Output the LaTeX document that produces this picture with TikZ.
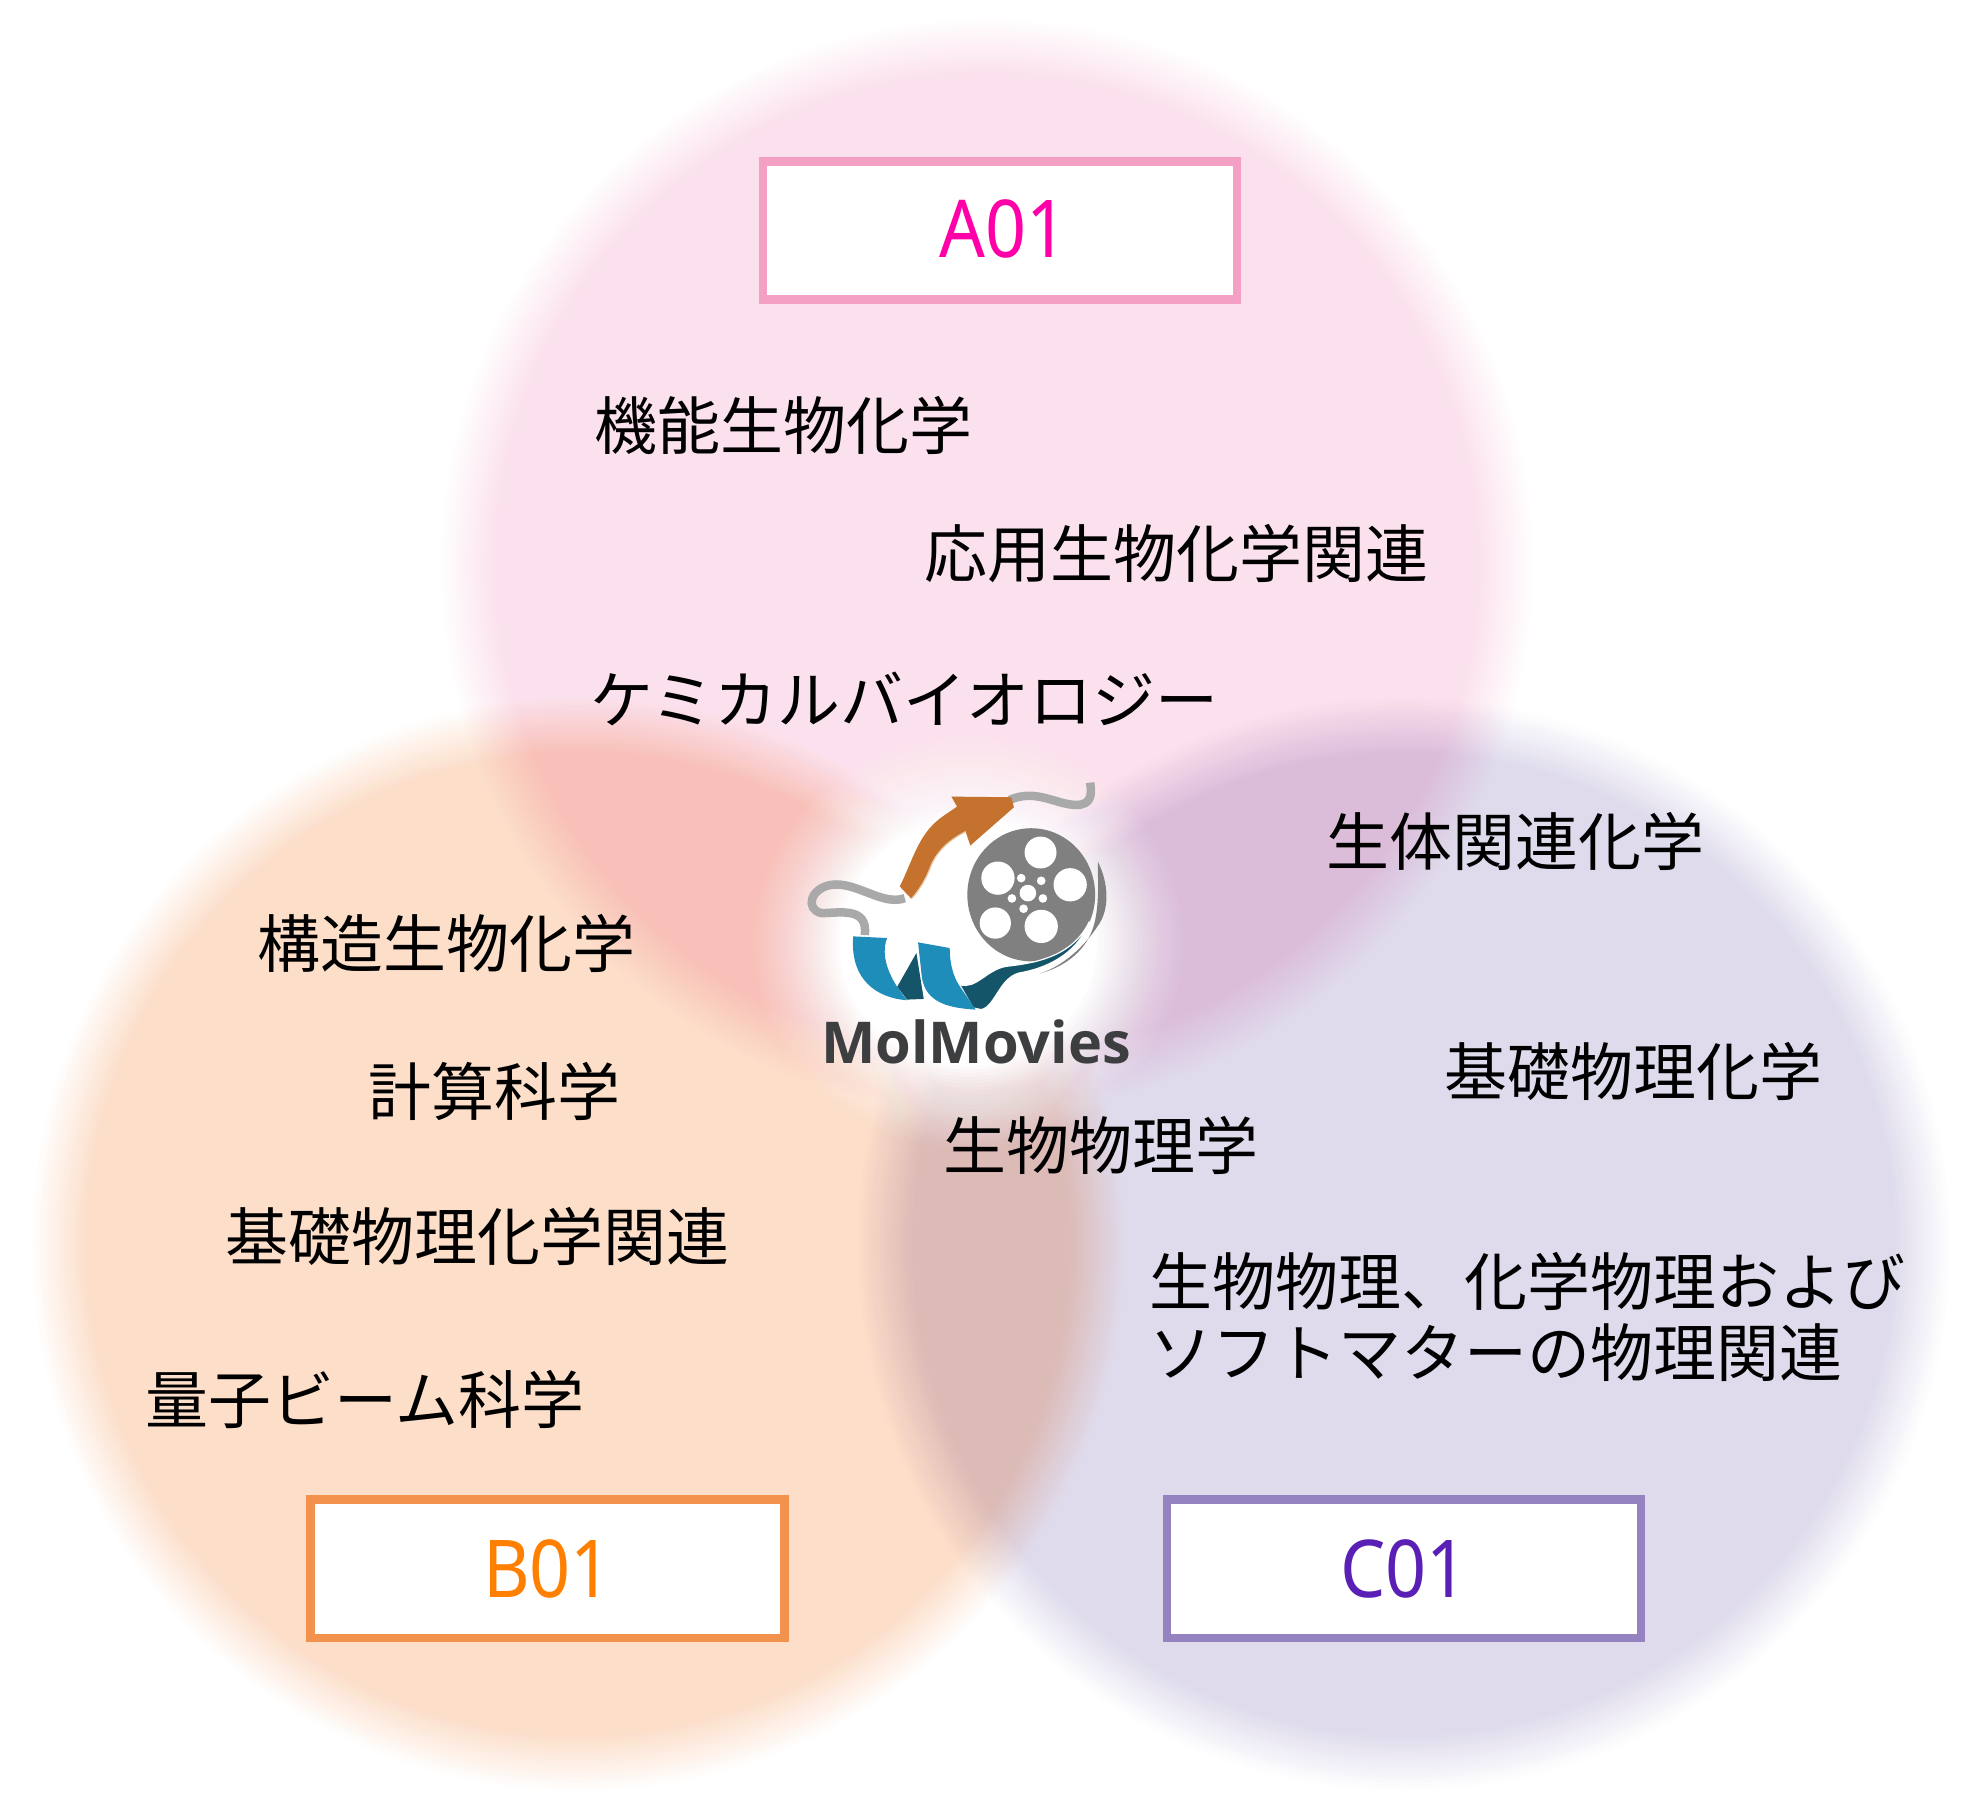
\documentclass[tikz,border=0pt]{standalone}
\usepackage{fontspec}
\newfontfamily\cjk{Noto Sans CJK JP}
\newfontfamily\labelfont[FakeStretch=0.9]{Noto Sans}
\newfontfamily\logofont{Open Sans}[BoldFont={Open Sans Bold}]
\definecolor{pinkline}{HTML}{F49FC4}
\definecolor{orangeline}{HTML}{F2924C}
\definecolor{purpleline}{HTML}{9583C1}
\definecolor{pinktext}{HTML}{FF00A8}
\definecolor{orangetext}{HTML}{FF7F00}
\definecolor{purpletext}{HTML}{5A1FB5}
\definecolor{logogray}{HTML}{808080}
\definecolor{stringgray}{HTML}{A9A9A9}
\definecolor{arroworange}{HTML}{C4722D}
\definecolor{arrowedge}{HTML}{EBC9A8}
\definecolor{ribbonblue}{HTML}{1F8DB9}
\definecolor{ribbondark}{HTML}{14556A}
\definecolor{logotext}{HTML}{3C3E40}
% soft-edged disc: 15 concentric multiply layers whose integer colour steps add up to the fill
\newcommand{\softblob}[7]{%
  \foreach \i in {1,...,15}{
    \pgfmathtruncatemacro{\layerr}{255-round(\i*#5/15)+round((\i-1)*#5/15)}
    \pgfmathtruncatemacro{\layerg}{255-round(\i*#6/15)+round((\i-1)*#6/15)}
    \pgfmathtruncatemacro{\layerb}{255-round(\i*#7/15)+round((\i-1)*#7/15)}
    \definecolor{layercol}{RGB}{\layerr,\layerg,\layerb}
    \pgfmathsetmacro{\layerrad}{#3-(#3-#4)*(\i-1)/14}
    \path[fill=layercol] (#1,#2) circle [radius=\layerrad];
  }}
\tikzset{
  tagbox/.style={draw=#1,fill=white,line width=0.086cm,minimum width=4.74cm,minimum height=1.385cm,inner sep=0pt,font=\labelfont\fontsize{22.7}{26}\selectfont},
  topic/.style={anchor=west,inner sep=0pt,text=black,font=\cjk\fontsize{17.9}{20}\selectfont,align=left},
  stringline/.style={draw=stringgray,line width=0.085cm},
}
\begin{document}
\begin{tikzpicture}[x=0.01cm,y=-0.01cm]
\useasboundingbox (0,0) rectangle (1971,1820);
\fill[white] (0,0) rectangle (1971,1820);
\begin{scope}[blend mode=multiply]
\softblob{987}{565}{546}{492}{4}{30}{18}
\softblob{578}{1244}{546}{492}{3}{33}{54}
\softblob{1404}{1244}{546}{492}{32}{36}{19}
\end{scope}
\foreach \i in {1,...,24}{
  \pgfmathsetmacro{\glowfrac}{1-0.4*(\i-1)/23}
  \pgfmathsetmacro{\glowop}{1/(25-\i)}
  \path[fill=white,fill opacity=\glowop] (968,943) circle [x radius={215*\glowfrac},y radius={205*\glowfrac}];
}
% logo
\begin{scope}[shift={(760,750)},x=0.003333cm,y=-0.003333cm]
\draw[stringline] (750,150) .. controls (830,115) and (890,165) .. (950,165) .. controls (995,165) and (998,135) .. (992,98);
\draw[stringline] (435,445) .. controls (370,470) and (290,395) .. (215,405) .. controls (150,415) and (135,480) .. (185,490) .. controls (240,490) and (325,470) .. (315,556);
\fill[arroworange] (420,410) .. controls (450,350) and (470,280) .. (510,235) .. controls (535,205) and (565,190) .. (592,170) -- (575,140) -- (755,142) -- (763,172) -- (632,287) -- (618,245) .. controls (570,270) and (535,300) .. (515,345) .. controls (500,385) and (480,420) .. (455,447) -- cycle;
\draw[arrowedge,line width=0.012cm] (618,245) .. controls (570,270) and (535,300) .. (515,345) .. controls (500,385) and (480,420) .. (455,447);
\fill[logogray] (1015,335) .. controls (1048,400) and (1052,480) .. (1014,530) .. controls (975,590) and (910,650) .. (840,672) .. controls (920,650) and (985,600) .. (1005,520) .. controls (1020,460) and (1015,390) .. (1015,335) -- cycle;
\fill[logogray] (815,435) circle [x radius=192,y radius=200];
\foreach \cx/\cy/\rr in {843/308/48,715/385/50,932/405/50,707/520/47,845/530/50,805/430/25,785/385/13,845/393/13,757/446/13,850/446/13,792/477/13}
  \fill[white] (\cx,\cy) circle [radius=\rr];
\filldraw[fill=ribbondark,draw=white,line width=0.012cm] (600,705) .. controls (650,720) and (680,660) .. (740,650) .. controls (830,640) and (940,620) .. (990,515) .. controls (960,600) and (880,650) .. (790,668) .. controls (720,675) and (710,770) .. (665,780) -- (640,775) -- cycle;
\fill[ribbondark] (412,712) -- (470,610) -- (492,748) -- (442,750) -- cycle;
\fill[ribbonblue] (280,560) -- (382,565) .. controls (360,620) and (390,690) .. (442,752) .. controls (350,745) and (270,690) .. (280,560) -- cycle;
\fill[ribbonblue] (475,578) -- (570,595) .. controls (570,640) and (580,680) .. (600,710) -- (648,780) .. controls (550,775) and (490,750) .. (485,670) -- cycle;
\end{scope}
\node[anchor=base,inner sep=0pt,text=logotext,font=\logofont\bfseries\fontsize{16.4}{20}\selectfont] (logotitle) at (976,1063) {MolMovies};
% boxes
\node[tagbox=pinkline,text=pinktext] (a01) at (1000,230.5) {\raisebox{1pt}{\hspace*{2pt}A01}};
\node[tagbox=orangeline,text=orangetext] (b01) at (547.5,1568.5) {B01};
\node[tagbox=purpleline,text=purpletext] (c01) at (1404,1568.5) {C01};
% topics
\node[topic] (t1) at (594,425) {機能生物化学};
\node[topic] (t2) at (924,554) {応用生物化学関連};
\node[topic] (t3) at (590,699) {ケミカルバイオロジー};
\node[topic] (t4) at (1326,841) {生体関連化学};
\node[topic] (t5) at (257,943) {構造生物化学};
\node[topic] (t6) at (368,1091) {計算科学};
\node[topic] (t7) at (1444,1071) {基礎物理化学};
\node[topic] (t8) at (943,1145) {生物物理学};
\node[topic] (t9) at (225,1236) {基礎物理化学関連};
\node[topic] (t10) at (1149,1317) {生物物理、化学物理および\\ソフトマターの物理関連};
\node[topic] (t11) at (145,1400) {量子ビーム科学};
\end{tikzpicture}
\end{document}
